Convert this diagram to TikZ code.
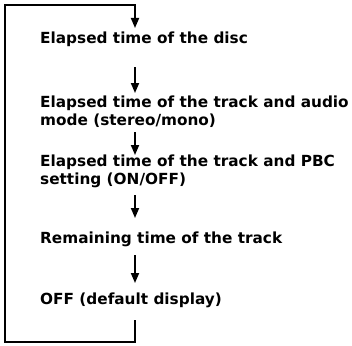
\documentclass[tikz,border=0pt]{standalone}
\usepackage{fontspec}
\setmainfont{DejaVu Sans}
\usetikzlibrary{positioning,arrows.meta}
\tikzset{
anzeige/.style={anchor=base west,inner sep=0pt,align=left,font=\fontsize{15.3}{18}\selectfont\bfseries},
schritt/.style={->,line width=1.8pt}
}

\begin{document}
\begin{tikzpicture}
[x=1pt,y=-1pt,>={Triangle[width=8pt,length=10pt]}]
\useasboundingbox (0,0) rectangle (352,345);
\coordinate (col) at (135,0);
\coordinate (lt) at (5,5);
\coordinate (lb) at (5,342);
\node[anzeige] (t1) at (40,43) {Elapsed time of the disc};
\node[anzeige] (t2) at (40,125) {Elapsed time of the track and audio\\mode (stereo/mono)};
\node[anzeige] (t3) at (40,184) {Elapsed time of the track and PBC\\setting (ON/OFF)};
\node[anzeige] (t4) at (40,243) {Remaining time of the track};
\node[anzeige] (t5) at (40,304) {OFF (default display)};
\draw[schritt] ([yshift=-24pt]t1.base -| col) -- ([yshift=32pt]t2.base -| col);
\draw[schritt] ([yshift=-7pt]t2.base -| col) -- ([yshift=29pt]t3.base -| col);
\draw[schritt] ([yshift=-11pt]t3.base -| col) -- ([yshift=25pt]t4.base -| col);
\draw[schritt] ([yshift=-12pt]t4.base -| col) -- ([yshift=21pt]t5.base -| col);
% Ruecksprung zum Anfang
\draw[schritt] ([yshift=-16pt]t5.base -| col) |- (lb) |- (lt) -| ([yshift=15pt]t1.base -| col);
\end{tikzpicture}
\end{document}
